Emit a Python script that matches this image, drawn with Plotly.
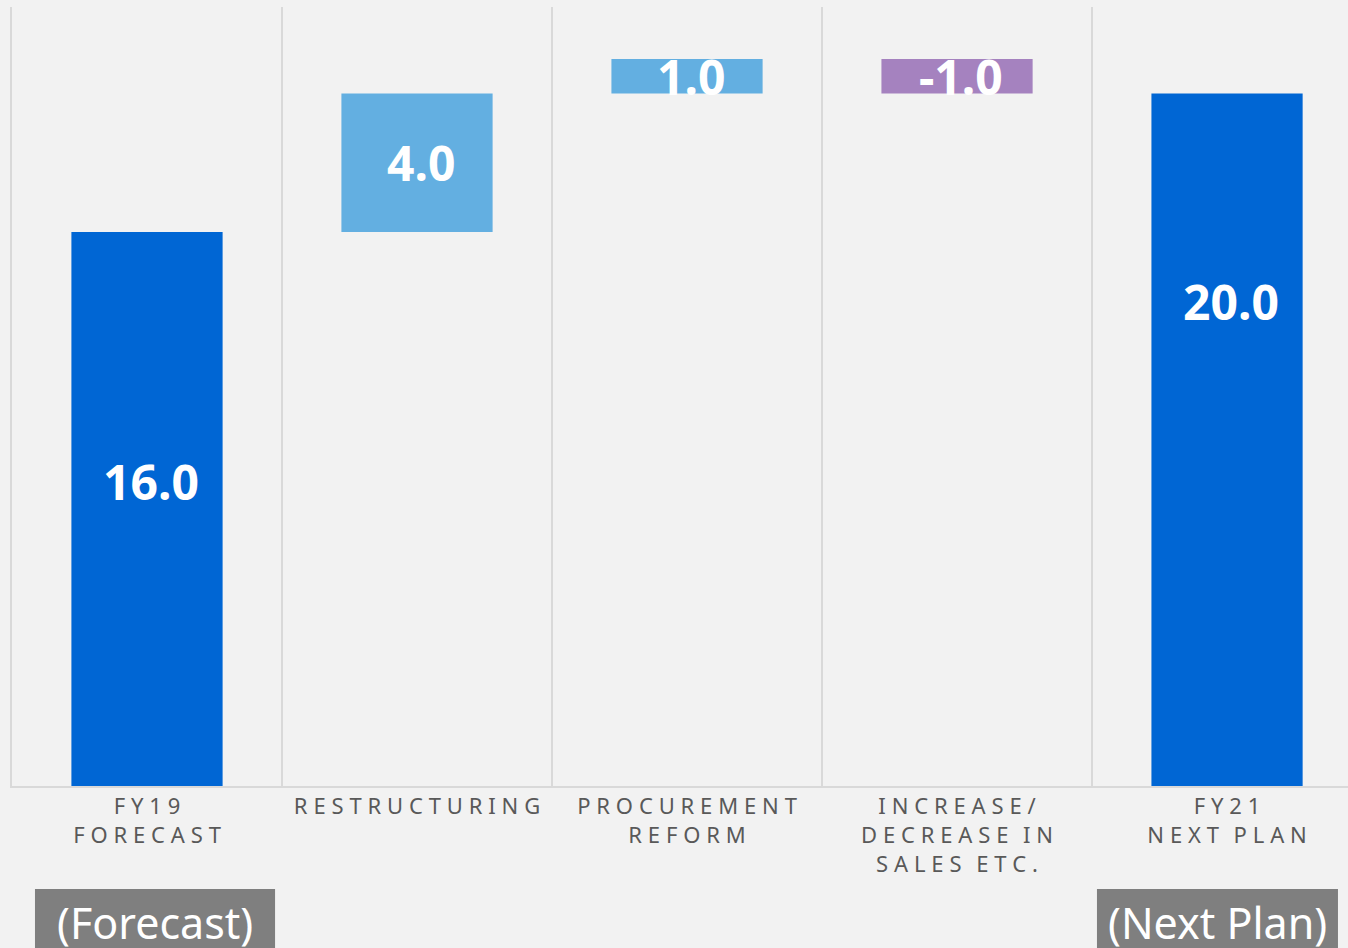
import plotly.graph_objects as go

categories = ["FY19\nFORECAST", "RESTRUCTURING", "PROCUREMENT\nREFORM",
              "INCREASE/\nDECREASE IN\nSALES ETC.", "FY21\nNEXT PLAN"]
values = [16.0, 4.0, 1.0, -1.0, 20.0]
measures = ["absolute", "relative", "relative", "relative", "total"]
value_labels = ["16.0", "4.0", "1.0", "-1.0", "20.0"]
# where the value label sits inside each bar (fraction of the bar height)
label_frac = [0.55, 0.5, 0.5, 0.5, 0.70]

BG = "#f2f2f2"
GRID = "#d9d9d9"
DARK = "#0066d4"
LIGHT = "#63afe1"
PURPLE = "#a582bf"
BOX = "#7f7f7f"


def spaced(s):
    # mimic the wide letter spacing of the original labels
    lines = []
    for line in s.split("\n"):
        words = ["\u2009\u200a".join(w) for w in line.split(" ")]
        lines.append("\u2009\u2002".join(words))
    return "<br>".join(lines)


fig = go.Figure(go.Waterfall(
    x=categories,
    y=values,
    measure=measures,
    width=0.56,
    connector=dict(visible=False),
    increasing=dict(marker=dict(color=LIGHT)),
    decreasing=dict(marker=dict(color=PURPLE)),
    totals=dict(marker=dict(color=DARK)),
    hoverinfo="x+y",
))

# value labels, computed from the running total
running = 0.0
for cat, v, m, lab, f in zip(categories, values, measures, value_labels, label_frac):
    if m == "absolute" or m == "total":
        lo, hi = 0.0, v
        running = v
    else:
        lo, hi = sorted([running, running + v])
        running += v
    fig.add_annotation(x=cat, y=lo + (hi - lo) * f, text=f"<b>{lab}</b>",
                       showarrow=False, xshift=4,
                       font=dict(family="Noto Sans", size=48, color="white"))

# grey tags under the first and last bars
for x0, x1, label in [(0.0172, 0.1969, "(Forecast)"), (0.8121, 0.9925, "(Next Plan)")]:
    fig.add_shape(type="rect", xref="paper", yref="paper",
                  x0=x0, x1=x1, y0=-0.1322, y1=-0.25,
                  fillcolor=BOX, line_width=0, layer="above")
    fig.add_annotation(xref="paper", yref="paper", x=(x0 + x1) / 2, y=-0.1746,
                       xanchor="center", yanchor="middle", text=label,
                       showarrow=False,
                       font=dict(family="Noto Sans", size=43, color="white"))

fig.update_layout(
    width=1348, height=948,
    margin=dict(l=12, r=0, t=7, b=162),
    paper_bgcolor=BG, plot_bgcolor=BG,
    showlegend=False,
    xaxis=dict(
        tickvals=categories,
        ticktext=[spaced(c) for c in categories],
        tickson="boundaries",
        showgrid=True, gridcolor=GRID, gridwidth=2,
        showline=True, linecolor=GRID, linewidth=2,
        ticks="", range=[-0.5, 4.448],
        tickfont=dict(family="Noto Sans", size=22, color="#595959"),
    ),
    yaxis=dict(range=[0, 22.5], showgrid=False, zeroline=False,
               showline=True, linecolor=GRID, linewidth=2,
               showticklabels=False),
)

fig.write_html("out.html", config={"displayModeBar": False},
               post_script="document.body.style.margin='0px';")
